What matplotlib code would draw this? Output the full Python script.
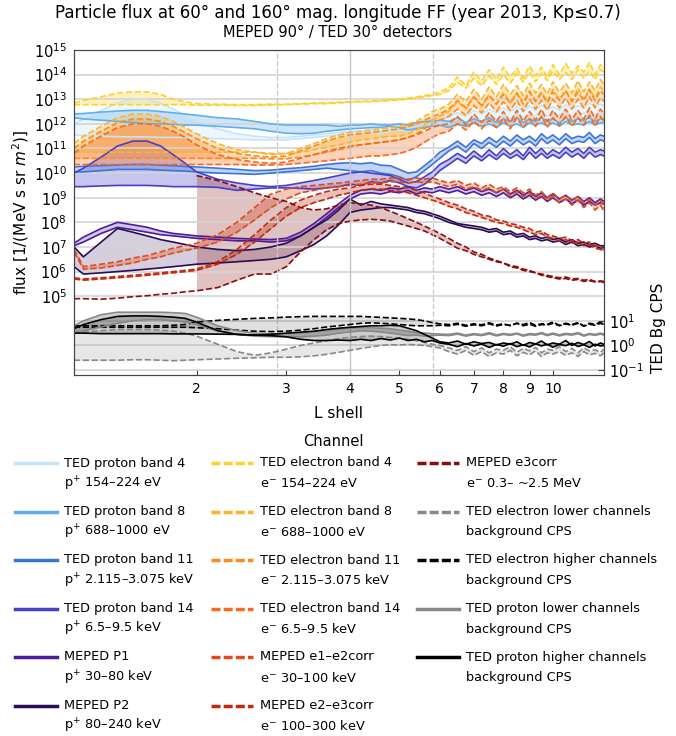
import numpy as np
import matplotlib.pyplot as plt
from matplotlib.lines import Line2D
from matplotlib.ticker import NullLocator

nan = np.nan

# L shell grid
L_shell = [1.15, 1.2, 1.3, 1.4, 1.5, 1.6, 1.7, 1.8, 1.9, 2.0,
           2.2, 2.4, 2.6, 2.8, 3.0,
           3.2, 3.4, 3.6, 3.8, 4.0, 4.2, 4.4, 4.6, 4.8, 5.0, 5.2, 5.4, 5.6, 5.8, 6.0,
           6.25, 6.5, 6.75, 7.0, 7.25, 7.5, 7.75, 8.0, 8.25, 8.5, 8.75, 9.0, 9.25, 9.5, 9.75,
           10.0, 10.3, 10.6, 10.9, 11.2, 11.5, 11.8, 12.1, 12.4, 12.6]

# log10 flux, two longitudes (60 and 160 deg)
p4_60 = [12.0, 12.2, 12.55, 12.85, 13.0, 13.0, 12.85, 12.6, 12.35, 12.1,
         11.8, 11.6, 11.5, 11.45, 11.45,
         11.5, 11.55, 11.6, 11.65, 11.7, 11.7, 11.75, 11.7, 11.8, 11.85, 11.8, 11.9, 11.95, 12.05, 12.15,
         12.3, 12.45, 12.3, 12.55, 12.4, 12.6, 12.45, 12.65, 12.5, 12.7, 12.5, 12.75, 12.55, 12.75, 12.6,
         12.7, 12.55, 12.8, 12.6, 12.75, 12.65, 12.85, 12.7, 12.8, 12.75]
p4_160 = [11.55, 11.52, 11.5, 11.48, 11.47, 11.47, 11.45, 11.45, 11.45, 11.42,
          11.4, 11.38, 11.35, 11.35, 11.35,
          11.4, 11.45, 11.5, 11.55, 11.6, 11.6, 11.65, 11.6, 11.7, 11.75, 11.7, 11.8, 11.85, 11.9, 11.95,
          12.05, 12.2, 12.05, 12.3, 12.1, 12.35, 12.15, 12.4, 12.2, 12.45, 12.25, 12.4, 12.3, 12.5, 12.3,
          12.45, 12.35, 12.55, 12.3, 12.5, 12.4, 12.55, 12.35, 12.5, 12.45]
p8_60 = [12.4, 12.42, 12.48, 12.52, 12.55, 12.55, 12.5, 12.45, 12.4, 12.35,
         12.25, 12.2, 12.1, 12.0, 11.95,
         11.95, 11.95, 11.95, 11.9, 11.95, 11.95, 12.0, 11.95, 11.95, 12.0, 11.95, 12.05, 12.1, 12.1, 12.15,
         12.1, 12.25, 12.05, 12.2, 12.1, 12.25, 12.05, 12.2, 12.1, 12.25, 12.05, 12.2, 12.1, 12.25, 12.1,
         12.2, 12.05, 12.25, 12.1, 12.2, 12.15, 12.25, 12.1, 12.2, 12.2]
p8_160 = [12.25, 12.2, 12.15, 12.1, 12.05, 12.0, 12.0, 11.98, 11.95, 11.95,
          11.9, 11.85, 11.8, 11.7, 11.62,
          11.6, 11.62, 11.7, 11.75, 11.8, 11.82, 11.85, 11.85, 11.9, 11.85, 11.75, 11.8, 11.85, 11.9, 11.95,
          11.85, 12.0, 11.9, 12.05, 11.9, 12.0, 11.85, 12.05, 11.9, 12.0, 11.85, 12.05, 11.95, 12.05, 11.9,
          12.05, 11.9, 12.1, 11.95, 12.0, 11.95, 12.1, 11.95, 12.05, 12.05]
p11_60 = [10.25, 10.28, 10.3, 10.33, 10.35, 10.35, 10.32, 10.3, 10.27, 10.25,
          10.2, 10.15, 10.1, 10.12, 10.18,
          10.22, 10.28, 10.35, 10.4, 10.42, 10.38, 10.42, 10.32, 10.3, 10.15, 10.0, 10.05, 10.3, 10.55, 10.85,
          11.05, 11.3, 11.05, 11.35, 11.2, 11.45, 11.25, 11.5, 11.3, 11.55, 11.35, 11.5, 11.3, 11.6, 11.4,
          11.55, 11.35, 11.6, 11.4, 11.5, 11.45, 11.65, 11.4, 11.55, 11.5]
p11_160 = [10.05, 10.05, 10.1, 10.15, 10.15, 10.15, 10.12, 10.1, 10.08, 10.05,
           10.0, 9.98, 9.95, 10.0, 10.05,
           10.1, 10.15, 10.2, 10.15, 10.1, 10.05, 10.1, 10.0, 9.95, 9.85, 9.7, 9.85, 10.1, 10.35, 10.6,
           10.9, 11.1, 10.85, 11.2, 11.0, 11.25, 11.05, 11.3, 11.1, 11.35, 11.15, 11.3, 11.1, 11.4, 11.2,
           11.35, 11.15, 11.4, 11.2, 11.3, 11.25, 11.45, 11.2, 11.35, 11.3]
p14_60 = [10.0, 10.2, 10.65, 11.1, 11.3, 11.3, 11.1, 10.75, 10.4, 10.05,
          9.75, 9.6, 9.5, 9.45, 9.5,
          9.6, 9.7, 9.8, 9.9, 10.0, 10.05, 10.0, 9.95, 9.9, 9.75, 9.6, 9.65, 9.85, 10.05, 10.35,
          10.55, 10.8, 10.6, 10.9, 10.65, 10.95, 10.7, 11.0, 10.75, 10.95, 10.7, 11.05, 10.8, 11.0, 10.75,
          10.95, 10.8, 11.05, 10.85, 11.0, 10.8, 11.05, 10.85, 10.95, 10.9]
p14_160 = [9.45, 9.45, 9.48, 9.5, 9.5, 9.5, 9.48, 9.45, 9.45, 9.45,
           9.42, 9.3, 9.35, 9.4, 9.4,
           9.38, 9.35, 9.4, 9.45, 9.55, 9.5, 9.65, 9.6, 9.7, 9.6, 9.45, 9.4, 9.55, 9.8, 10.1,
           10.35, 10.6, 10.4, 10.7, 10.5, 10.75, 10.55, 10.8, 10.6, 10.75, 10.55, 10.85, 10.6, 10.8, 10.6,
           10.75, 10.6, 10.85, 10.65, 10.8, 10.6, 10.85, 10.65, 10.75, 10.7]
P1_60 = [7.15, 7.4, 7.75, 8.0, 7.9, 7.8, 7.65, 7.55, 7.5, 7.45,
         7.4, 7.35, 7.32, 7.3, 7.35,
         7.6, 7.95, 8.35, 8.75, 9.1, 9.3, 9.35, 9.3, 9.4, 9.35, 9.45, 9.3, 9.4, 9.35, 9.45,
         9.35, 9.45, 9.3, 9.4, 9.25, 9.35, 9.2, 9.35, 9.15, 9.3, 9.1, 9.25, 9.05, 9.2, 9.0,
         9.15, 8.95, 9.1, 8.9, 9.05, 8.85, 9.0, 8.8, 8.95, 8.85]
P1_160 = [7.05, 7.2, 7.55, 7.8, 7.7, 7.6, 7.5, 7.45, 7.4, 7.35,
          7.3, 7.25, 7.25, 7.2, 7.25,
          7.45, 7.8, 8.2, 8.6, 8.95, 9.15, 9.2, 9.15, 9.25, 9.2, 9.3, 9.15, 9.25, 9.2, 9.3,
          9.2, 9.3, 9.15, 9.25, 9.1, 9.2, 9.05, 9.2, 9.0, 9.15, 8.95, 9.1, 8.9, 9.05, 8.85,
          9.0, 8.8, 8.95, 8.75, 8.9, 8.7, 8.85, 8.7, 8.8, 8.75]
P2_60 = [7.0, 6.6, 7.2, 7.75, 7.6, 7.45, 7.3, 7.2, 7.1, 7.0,
         6.9, 6.85, 6.9, 7.0, 7.15,
         7.45, 7.8, 8.1, 8.5, 8.95, 8.7, 8.85, 8.75, 8.7, 8.65, 8.6, 8.5, 8.45, 8.35, 8.25,
         8.1, 7.95, 7.9, 7.85, 7.8, 7.7, 7.75, 7.6, 7.65, 7.5, 7.55, 7.4, 7.45, 7.35, 7.4,
         7.3, 7.35, 7.2, 7.3, 7.15, 7.2, 7.1, 7.15, 7.05, 7.05]
P2_160 = [6.2, 5.9, 5.95, 6.0, 6.05, 6.1, 6.15, 6.2, 6.25, 6.3,
          6.35, 6.4, 6.45, 6.5, 6.6,
          6.85, 7.1, 7.45, 7.9, 8.4, 8.5, 8.55, 8.6, 8.6, 8.55, 8.5, 8.4, 8.35, 8.25, 8.15,
          8.0, 7.9, 7.8, 7.75, 7.7, 7.6, 7.65, 7.5, 7.55, 7.4, 7.45, 7.3, 7.35, 7.25, 7.3,
          7.2, 7.25, 7.1, 7.2, 7.05, 7.1, 7.0, 7.05, 6.95, 7.0]

e4_60 = [12.85, 12.95, 13.1, 13.25, 13.3, 13.3, 13.2, 13.0, 12.9, 12.82,
         12.8, 12.78, 12.78, 12.8, 12.8,
         12.82, 12.85, 12.85, 12.88, 12.9, 12.92, 12.92, 12.95, 12.98, 13.0, 13.05, 13.1, 13.15, 13.2, 13.3,
         13.45, 13.9, 13.55, 14.1, 13.75, 14.2, 13.8, 14.3, 13.9, 14.25, 13.85, 14.35, 13.95, 14.3, 13.9,
         14.4, 14.0, 14.45, 14.05, 14.35, 14.1, 14.5, 14.0, 14.4, 14.3]
e4_160 = [12.78, 12.78, 12.78, 12.78, 12.78, 12.78, 12.78, 12.78, 12.78, 12.76,
          12.76, 12.75, 12.75, 12.76, 12.78,
          12.8, 12.82, 12.82, 12.85, 12.88, 12.9, 12.9, 12.92, 12.95, 12.97, 13.0, 13.05, 13.1, 13.15, 13.2,
          13.35, 13.7, 13.45, 13.85, 13.55, 13.95, 13.6, 14.0, 13.65, 14.05, 13.7, 14.1, 13.7, 14.05, 13.75,
          14.15, 13.8, 14.1, 13.8, 14.2, 13.85, 14.15, 13.8, 14.2, 14.1]
e8_60 = [11.2, 11.5, 11.9, 12.25, 12.4, 12.4, 12.3, 12.1, 11.85, 11.6,
         11.2, 10.95, 10.85, 10.75, 10.8,
         11.0, 11.2, 11.4, 11.55, 11.65, 11.7, 11.75, 11.8, 11.85, 11.9, 12.0, 12.1, 12.3, 12.5, 12.6,
         12.8, 13.2, 12.9, 13.4, 13.0, 13.5, 13.1, 13.6, 13.2, 13.55, 13.15, 13.65, 13.25, 13.6, 13.2,
         13.7, 13.3, 13.65, 13.25, 13.75, 13.3, 13.7, 13.35, 13.8, 13.6]
e8_160 = [10.85, 10.85, 10.85, 10.85, 10.85, 10.85, 10.85, 10.85, 10.85, 10.85,
          10.85, 10.85, 10.85, 10.8, 10.8,
          10.85, 10.95, 11.05, 11.15, 11.25, 11.35, 11.4, 11.45, 11.5, 11.5, 11.6, 11.75, 11.95, 12.15, 12.3,
          12.5, 12.9, 12.6, 13.1, 12.7, 13.2, 12.8, 13.3, 12.85, 13.25, 12.9, 13.35, 12.95, 13.3, 12.9,
          13.4, 13.0, 13.35, 12.95, 13.45, 13.0, 13.4, 13.05, 13.5, 13.3]
e11_60 = [11.0, 11.3, 11.7, 12.05, 12.2, 12.2, 12.1, 11.9, 11.65, 11.4,
          11.0, 10.8, 10.7, 10.65, 10.7,
          10.9, 11.1, 11.3, 11.45, 11.55, 11.6, 11.65, 11.7, 11.75, 11.8, 11.9, 12.0, 12.15, 12.3, 12.4,
          12.6, 12.95, 12.65, 13.1, 12.75, 13.15, 12.8, 13.2, 12.85, 13.25, 12.8, 13.3, 12.9, 13.25, 12.85,
          13.3, 12.95, 13.35, 12.9, 13.3, 12.95, 13.4, 12.95, 13.35, 13.2]
e11_160 = [10.6, 10.6, 10.6, 10.6, 10.6, 10.6, 10.6, 10.6, 10.6, 10.6,
           10.6, 10.6, 10.6, 10.58, 10.58,
           10.65, 10.75, 10.85, 10.95, 11.05, 11.15, 11.2, 11.25, 11.3, 11.35, 11.45, 11.6, 11.8, 12.0, 12.15,
           12.3, 12.6, 12.35, 12.75, 12.45, 12.85, 12.5, 12.9, 12.55, 12.95, 12.5, 13.0, 12.6, 12.95, 12.55,
           13.0, 12.65, 13.05, 12.6, 13.0, 12.65, 13.1, 12.65, 13.05, 12.9]
e14_60 = [10.8, 11.1, 11.5, 11.85, 12.0, 12.0, 11.9, 11.7, 11.45, 11.15,
          10.75, 10.55, 10.45, 10.4, 10.45,
          10.6, 10.75, 10.9, 11.0, 11.1, 11.15, 11.2, 11.25, 11.3, 11.35, 11.45, 11.55, 11.7, 11.85, 11.95,
          12.0, 12.3, 11.95, 12.4, 12.05, 12.45, 12.1, 12.5, 12.05, 12.55, 12.1, 12.5, 12.15, 12.6, 12.1,
          12.55, 12.2, 12.6, 12.15, 12.55, 12.2, 12.65, 12.2, 12.6, 12.4]
e14_160 = [10.35, 10.35, 10.35, 10.35, 10.35, 10.35, 10.35, 10.35, 10.35, 10.35,
           10.35, 10.35, 10.33, 10.33, 10.35,
           10.4, 10.45, 10.5, 10.55, 10.6, 10.65, 10.7, 10.7, 10.75, 10.8, 10.9, 11.05, 11.25, 11.45, 11.6,
           11.7, 12.0, 11.75, 12.1, 11.8, 12.15, 11.85, 12.2, 11.8, 12.25, 11.85, 12.2, 11.9, 12.3, 11.85,
           12.25, 11.95, 12.3, 11.9, 12.25, 11.95, 12.35, 11.9, 12.3, 12.1]
e12_60 = [6.9, 6.2, 6.3, 6.4, 6.55, 6.65, 6.8, 6.95, 7.05, 7.15,
          7.5, 8.0, 8.6, 9.15, 9.35,
          9.45, 9.5, 9.55, 9.6, 9.65, 9.7, 9.75, 9.75, 9.8, 9.8, 9.75, 9.8, 9.75, 9.8, 9.7,
          9.6, 9.7, 9.5, 9.6, 9.4, 9.55, 9.35, 9.45, 9.25, 9.4, 9.2, 9.35, 9.1, 9.25, 9.0,
          9.2, 8.95, 9.1, 8.85, 9.05, 8.8, 8.95, 8.7, 8.9, 8.6]
e12_160 = [6.8, 6.1, 6.15, 6.25, 6.35, 6.5, 6.6, 6.75, 6.85, 6.95,
           7.2, 7.6, 8.1, 8.6, 8.95,
           9.2, 9.3, 9.4, 9.45, 9.5, 9.55, 9.6, 9.6, 9.65, 9.65, 9.6, 9.65, 9.6, 9.65, 9.55,
           9.45, 9.55, 9.35, 9.45, 9.3, 9.4, 9.2, 9.35, 9.1, 9.25, 9.05, 9.2, 8.95, 9.1, 8.9,
           9.05, 8.8, 8.95, 8.7, 8.9, 8.6, 8.8, 8.5, 8.7, 8.45]
e23_60 = [5.75, 5.7, 5.75, 5.8, 5.85, 5.9, 5.95, 6.0, 6.05, 6.1,
          6.4, 6.9, 7.5, 8.1, 8.6,
          8.9, 9.1, 9.25, 9.35, 9.4, 9.5, 9.55, 9.55, 9.5, 9.45, 9.4, 9.3, 9.2, 9.05, 8.95,
          8.8, 8.7, 8.55, 8.45, 8.3, 8.25, 8.1, 8.05, 7.95, 7.9, 7.8, 7.75, 7.6, 7.65, 7.5,
          7.45, 7.35, 7.4, 7.25, 7.3, 7.15, 7.2, 7.05, 7.0, 6.9]
e23_160 = [5.7, 5.65, 5.7, 5.75, 5.8, 5.85, 5.9, 5.95, 6.0, 6.05,
           6.3, 6.7, 7.2, 7.75, 8.25,
           8.6, 8.8, 8.95, 9.1, 9.2, 9.3, 9.35, 9.35, 9.3, 9.25, 9.2, 9.1, 9.0, 8.9, 8.8,
           8.65, 8.55, 8.4, 8.3, 8.2, 8.1, 8.0, 7.95, 7.85, 7.8, 7.7, 7.6, 7.5, 7.55, 7.4,
           7.35, 7.25, 7.3, 7.15, 7.2, 7.05, 7.1, 6.95, 6.9, 6.8]
e3_60 = [4.9, 4.9, 4.88, 4.92, 4.98, 5.02, 5.08, 5.12, 5.18, 5.22,
         5.35, 5.65, 5.9, 5.9, 6.2,
         6.8, 7.3, 7.7, 7.95, 8.05, 8.1, 8.12, 8.1, 8.05, 7.95, 7.85, 7.75, 7.65, 7.5, 7.35,
         7.15, 6.95, 6.85, 6.7, 6.6, 6.5, 6.4, 6.35, 6.2, 6.15, 6.05, 6.0, 5.95, 5.85, 5.8,
         5.75, 5.7, 5.72, 5.65, 5.68, 5.6, 5.63, 5.58, 5.6, 5.55]
e3_160 = [nan, nan, nan, nan, nan, nan, nan, nan, nan, 9.9,
          9.7, 9.45, 9.2, 9.0, 8.85,
          8.6, 8.5, 8.55, 8.7, 8.8, 8.75, 8.7, 8.6, 8.45, 8.3, 8.15, 8.0, 7.85, 7.7, 7.55,
          7.35, 7.15, 7.0, 6.8, 6.7, 6.55, 6.45, 6.35, 6.25, 6.2, 6.1, 6.05, 5.95, 5.9, 5.85,
          5.8, 5.75, 5.78, 5.7, 5.72, 5.65, 5.68, 5.6, 5.62, 5.6]

# log10 background counts per second
bg_elo_60 = [0.5, 0.55, 0.6, 0.65, 0.65, 0.65, 0.62, 0.58, 0.5, 0.38,
             0.05, -0.25, -0.4, -0.3, -0.15,
             0.0, 0.1, 0.2, 0.28, 0.33, 0.36, 0.38, 0.36, 0.33, 0.3, 0.25, 0.2, 0.12, 0.05, 0.0,
             -0.1, -0.2, -0.05, -0.25, -0.1, -0.3, -0.15, -0.2, -0.05, -0.28, -0.12, -0.22, -0.08, -0.3, -0.15,
             -0.2, -0.05, -0.25, -0.12, -0.3, -0.1, -0.22, -0.18, -0.28, -0.15]
bg_elo_160 = [-0.6, -0.6, -0.6, -0.6, -0.58, -0.58, -0.6, -0.62, -0.6, -0.58,
              -0.55, -0.52, -0.5, -0.48, -0.48,
              -0.46, -0.42, -0.36, -0.28, -0.2, -0.12, -0.06, 0.0, 0.03, 0.02, 0.04, 0.02, 0.0, -0.05, -0.1,
              -0.25, -0.35, -0.2, -0.4, -0.25, -0.45, -0.3, -0.35, -0.2, -0.42, -0.28, -0.38, -0.22, -0.45, -0.3,
              -0.35, -0.25, -0.4, -0.3, -0.45, -0.25, -0.38, -0.32, -0.42, -0.3]
bg_ehi_60 = [0.8, 0.8, 0.8, 0.8, 0.8, 0.8, 0.8, 0.82, 0.85, 0.95,
             1.02, 1.06, 1.1, 1.12, 1.15,
             1.17, 1.18, 1.18, 1.18, 1.18, 1.18, 1.16, 1.14, 1.12, 1.1, 1.08, 1.05, 1.0, 0.93, 0.88,
             0.85, 0.9, 0.82, 0.88, 0.84, 0.92, 0.83, 0.88, 0.8, 0.9, 0.85, 0.93, 0.82, 0.88, 0.86,
             0.95, 0.82, 0.9, 0.85, 0.93, 0.8, 0.9, 0.86, 0.94, 0.88]
bg_ehi_160 = [0.74, 0.74, 0.74, 0.74, 0.74, 0.74, 0.74, 0.74, 0.74, 0.72,
              0.68, 0.62, 0.58, 0.56, 0.58,
              0.62, 0.68, 0.75, 0.8, 0.85, 0.9, 0.92, 0.9, 0.88, 0.85, 0.82, 0.8, 0.8, 0.8, 0.82,
              0.8, 0.86, 0.78, 0.84, 0.8, 0.88, 0.79, 0.85, 0.82, 0.9, 0.8, 0.86, 0.78, 0.85, 0.83,
              0.9, 0.8, 0.87, 0.82, 0.9, 0.78, 0.86, 0.82, 0.9, 0.85]
bg_plo_60 = [0.8, 1.0, 1.25, 1.35, 1.35, 1.35, 1.35, 1.33, 1.3, 1.15,
             0.8, 0.6, 0.5, 0.48, 0.48,
             0.5, 0.55, 0.6, 0.65, 0.7, 0.72, 0.72, 0.7, 0.68, 0.62, 0.58, 0.52, 0.5, 0.48, 0.46,
             0.45, 0.5, 0.42, 0.48, 0.44, 0.52, 0.43, 0.48, 0.45, 0.5, 0.42, 0.48, 0.46, 0.52, 0.44,
             0.5, 0.43, 0.49, 0.46, 0.52, 0.42, 0.48, 0.45, 0.5, 0.46]
bg_plo_160 = [0.55, 0.6, 0.75, 0.9, 1.0, 1.05, 1.05, 1.0, 0.95, 0.85,
              0.6, 0.45, 0.38, 0.36, 0.36,
              0.35, 0.38, 0.42, 0.5, 0.55, 0.6, 0.58, 0.55, 0.5, 0.45, 0.4, 0.42, 0.38, 0.4, 0.42,
              0.4, 0.46, 0.38, 0.44, 0.4, 0.47, 0.39, 0.45, 0.41, 0.47, 0.38, 0.44, 0.42, 0.48, 0.4,
              0.46, 0.39, 0.45, 0.42, 0.48, 0.38, 0.45, 0.41, 0.46, 0.42]
bg_phi_60 = [0.68, 0.85, 1.05, 1.18, 1.2, 1.2, 1.18, 1.15, 1.1, 0.95,
             0.6, 0.45, 0.42, 0.45, 0.5,
             0.54, 0.58, 0.65, 0.7, 0.74, 0.77, 0.8, 0.8, 0.82, 0.8, 0.7, 0.6, 0.45, 0.3, 0.15,
             0.1, 0.18, 0.05, 0.15, 0.08, 0.12, 0.02, 0.1, 0.05, 0.15, 0.0, 0.12, 0.06, 0.18, 0.02,
             0.1, 0.05, 0.2, 0.0, 0.12, 0.04, 0.16, -0.02, 0.1, 0.05]
bg_phi_160 = [0.5, 0.5, 0.48, 0.48, 0.48, 0.48, 0.48, 0.47, 0.47, 0.47,
              0.46, 0.45, 0.42, 0.4, 0.35,
              0.25, 0.2, 0.2, 0.22, 0.2, 0.25, 0.2, 0.28, 0.22, 0.3, 0.2, 0.25, 0.15, 0.2, 0.1,
              0.05, -0.05, 0.08, -0.02, 0.06, -0.08, 0.04, -0.03, 0.08, -0.05, 0.03, -0.06, 0.07, -0.02, 0.05,
              -0.07, 0.04, -0.01, 0.09, -0.04, 0.03, -0.08, 0.05, -0.02, 0.0]

# legend text (two lines each)
labels = [
    ('TED proton band 4', 'p$^{+}$ 154–224 eV'),
    ('TED proton band 8', 'p$^{+}$ 688–1000 eV'),
    ('TED proton band 11', 'p$^{+}$ 2.115–3.075 keV'),
    ('TED proton band 14', 'p$^{+}$ 6.5–9.5 keV'),
    ('MEPED P1', 'p$^{+}$ 30–80 keV'),
    ('MEPED P2', 'p$^{+}$ 80–240 keV'),
    ('TED electron band 4', 'e$^{-}$ 154–224 eV'),
    ('TED electron band 8', 'e$^{-}$ 688–1000 eV'),
    ('TED electron band 11', 'e$^{-}$ 2.115–3.075 keV'),
    ('TED electron band 14', 'e$^{-}$ 6.5–9.5 keV'),
    ('MEPED e1–e2corr', 'e$^{-}$ 30–100 keV'),
    ('MEPED e2–e3corr', 'e$^{-}$ 100–300 keV'),
    ('MEPED e3corr', 'e$^{-}$ 0.3– ~2.5 MeV'),
    ('TED electron lower channels', 'background CPS'),
    ('TED electron higher channels', 'background CPS'),
    ('TED proton lower channels', 'background CPS'),
    ('TED proton higher channels', 'background CPS'),
]

flux_series = [
    (p4_60, p4_160, '#c6e4f8', '-', 0.3),
    (p8_60, p8_160, '#60aeee', '-', 0.3),
    (p11_60, p11_160, '#3b74dc', '-', 0.3),
    (p14_60, p14_160, '#4641c4', '-', 0.3),
    (P1_60, P1_160, '#4c1d9a', '-', 0.25),
    (P2_60, P2_160, '#2a0b55', '-', 0.2),
    (e4_60, e4_160, '#fdd22a', '--', 0.3),
    (e8_60, e8_160, '#fdb42a', '--', 0.3),
    (e11_60, e11_160, '#fa8c1e', '--', 0.3),
    (e14_60, e14_160, '#f86a1c', '--', 0.3),
    (e12_60, e12_160, '#e24a1c', '--', 0.3),
    (e23_60, e23_160, '#c22a10', '--', 0.3),
    (e3_60, e3_160, '#8a0c0c', '--', 0.25),
]
bg_series = [
    (bg_elo_60, bg_elo_160, '#888888', '--', 0.2),
    (bg_ehi_60, bg_ehi_160, '#000000', '--', 0.12),
    (bg_plo_60, bg_plo_160, '#888888', '-', 0.4),
    (bg_phi_60, bg_phi_160, '#000000', '-', 0.2),
]

L = np.array(L_shell)
W, H = 676, 736

fig = plt.figure(figsize=(W / 100, H / 100), dpi=100)
ax = fig.add_axes([74 / W, 1 - 375 / H, 530 / W, 325 / H])
ax2 = ax.twinx()

styles = []
for a, b, col, ls, alp in flux_series:
    ya = 10.0 ** np.array(a)
    yb = 10.0 ** np.array(b)
    ax.fill_between(L, ya, yb, color=col, alpha=alp, lw=0)
    ax.plot(L, ya, color=col, ls=ls, lw=1.2)
    ax.plot(L, yb, color=col, ls=ls, lw=1.2)
    styles.append((col, ls))

for a, b, col, ls, alp in bg_series:
    ya = 10.0 ** np.array(a)
    yb = 10.0 ** np.array(b)
    ax2.fill_between(L, ya, yb, color=col, alpha=alp, lw=0)
    ax2.plot(L, ya, color=col, ls=ls, lw=1.2)
    ax2.plot(L, yb, color=col, ls=ls, lw=1.2)
    styles.append((col, ls))

ax.set_xscale('log')
ax.set_yscale('log')
ax.set_xlim(1.15, 12.6)
ax.set_ylim(10 ** 1.8, 1e15)

xt = [2, 3, 4, 5, 6, 7, 8, 9, 10]
ax.set_xticks(xt)
ax.set_xticklabels([str(v) for v in xt])
ax.xaxis.set_minor_locator(NullLocator())
ax.tick_params(axis='x', direction='in', length=4, labelsize=10, pad=5, color='#444444')

yt = list(range(2, 16))
ax.set_yticks([10.0 ** k for k in yt])
ax.set_yticklabels(['' if k < 5 else '$10^{%d}$' % k for k in yt])
ax.yaxis.set_minor_locator(NullLocator())
ax.tick_params(axis='y', length=0, labelsize=10.5, pad=5)
ax.grid(axis='y', color='#d4d4d4', lw=1.2)
ax.axvline(4, color='#c4c4c4', lw=1)
ax.axvline(2.88, color='#cccccc', lw=1, ls='--')
ax.axvline(5.83, color='#cccccc', lw=1, ls='--')

ax2.set_yscale('log')
ax2.set_ylim(10 ** -1.2, 1e12)
ax2.set_yticks([0.1, 1, 10])
ax2.set_yticklabels(['$10^{-1}$', '$10^{0}$', '$10^{1}$'])
ax2.yaxis.set_minor_locator(NullLocator())
ax2.tick_params(axis='y', direction='in', length=4, labelsize=10.5, color='#444444')
ax2.set_ylabel('TED Bg CPS', fontsize=11)
ax2.yaxis.set_label_coords(1.088, 0.145)

for a in (ax, ax2):
    for s in a.spines.values():
        s.set_color('#444444')

ax.set_ylabel('flux [1/(MeV s sr $m^2$)]', fontsize=11, labelpad=2)
ax.set_xlabel('L shell', fontsize=11, labelpad=7)

fig.text(0.5, 1 - 13 / H, 'Particle flux at 60° and 160° mag. longitude FF (year 2013, Kp≤0.7)',
         ha='center', va='center', fontsize=12)
fig.text(0.5, 1 - 33 / H, 'MEPED 90° / TED 30° detectors',
         ha='center', va='center', fontsize=10.5)

# legend laid out by column / row, handle next to the first label line
fig.text(333 / W, 1 - 441 / H, 'Channel', ha='center', va='center', fontsize=10.5)
col_x = [15, 211, 417]
for i, ((col, ls), (l1, l2)) in enumerate(zip(styles, labels)):
    c, r = divmod(i, 6)
    y0 = 463 + 48.5 * r
    x0 = col_x[c]
    fig.add_artist(Line2D([x0 / W, (x0 + 42) / W], [1 - y0 / H, 1 - y0 / H],
                          color=col, lw=2.5, ls=ls,
                          dashes=(2.6, 0.9) if ls == '--' else (None, None)))
    fig.text((x0 + 49) / W, 1 - y0 / H, l1, ha='left', va='center', fontsize=9.3)
    fig.text((x0 + 49) / W, 1 - (y0 + 20.5) / H, l2, ha='left', va='center', fontsize=9.3)

fig.savefig('out.png', dpi=100)
